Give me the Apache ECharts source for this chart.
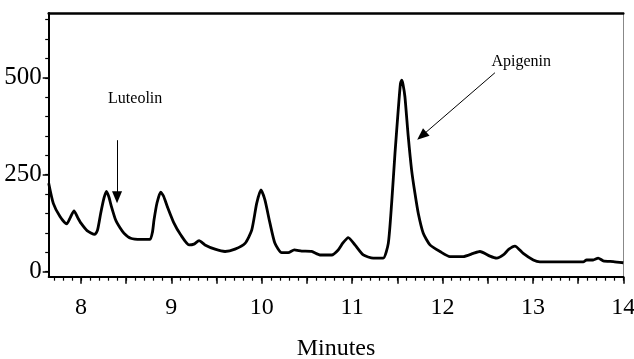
<!DOCTYPE html>
<html>
<head>
<meta charset="utf-8">
<script src="https://cdn.jsdelivr.net/npm/echarts@6/dist/echarts.min.js"></script>
<style>
html,body{margin:0;padding:0;background:#fff;}
#chart{width:634px;height:359px;}
</style>
</head>
<body>
<div id="chart"></div>
<script>
// Retention time (minutes)
var times = [7.643,7.694,7.768,7.842,7.879,7.923,7.967,8.000,8.067,8.152,8.183,8.218,8.255,8.282,8.310,8.332,8.384,8.432,8.476,8.550,8.661,8.764,8.791,8.808,8.841,8.882,8.913,8.955,9.029,9.103,9.195,9.250,9.306,9.372,9.483,9.594,9.704,9.815,9.889,9.944,9.991,10.035,10.091,10.146,10.220,10.293,10.360,10.442,10.552,10.644,10.774,10.846,10.898,10.957,11.031,11.123,11.234,11.344,11.400,11.437,11.474,11.510,11.534,11.548,11.562,11.584,11.621,11.658,11.695,11.732,11.787,11.861,11.972,12.082,12.229,12.340,12.414,12.525,12.599,12.672,12.735,12.801,12.893,13.004,13.078,13.557,13.594,13.666,13.722,13.778,13.889,14.000];
// Detector response
var signal = [228,176,142,123,138,157,138,125,106,96,107,150,190,207,192,172,133,113,99,86,83,83,102,133,177,205,195,168,125,95,69,71,80,69,58,52,58,73,107,176,211,185,125,73,49,49,56,53,52,43,43,56,74,88,69,43,35,35,73,176,305,417,484,494,484,451,348,262,202,150,99,69,52,39,39,47,52,40,35,43,58,66,47,30,25,25,30,30,35,28,26,23];

var xLabels = [8,9,10,11,12,13,14];
var xMajorTicks = [8,8.5,9,9.5,10,10.5,11,11.5,12,12.5,13,13.5,14];
var xMinorTicks = [7.7,7.8,7.9,8.0,8.1,8.2,8.3,8.4,8.5,8.6,8.7,8.8,8.9,9.0,9.1,9.2,9.3,9.4,9.5,9.6,9.7,9.8,9.9,10.0,10.1,10.2,10.3,10.4,10.5,10.6,10.7,10.8,10.9,11.0,11.1,11.2,11.3,11.4,11.5,11.6,11.7,11.8,11.9,12.0,12.1,12.2,12.3,12.4,12.5,12.6,12.7,12.8,12.9,13.0,13.1,13.2,13.3,13.4,13.5,13.6,13.7,13.8,13.9,14.0];
var yLabels = [0,250,500];
var yMinorTicks = [0,50,100,150,200,250,300,350,400,450,500,550,600,650];

var annotations = [
  {name:'Luteolin', text:[8.6,445], from:[8.399,339], to:[8.399,192]},
  {name:'Apigenin', text:[12.87,541], from:[12.58,513], to:[11.77,350]}
];

var FONT = "'Liberation Serif','Times New Roman',serif";
var X_MIN = 7.643, X_MAX = 14, Y_MIN = -13, Y_MAX = 667;
function makeGrid(){
  return {left:48.7, right:10.7, top:13, bottom:82.3, containLabel:false, outerBoundsMode:'none'};
}

var chart = echarts.init(document.getElementById('chart'));
var data = times.map(function(t,i){return [t, signal[i]];});

function ax(o){
  o.splitLine = {show:false};
  o.axisLine.onZero = false;
  return o;
}

var option = {
  backgroundColor:'#fff',
  animation:false,
  grid:[makeGrid(), makeGrid(), makeGrid()],
  xAxis:[
    ax({type:'value', gridIndex:0, position:'bottom', min:X_MIN, max:X_MAX,
     axisLine:{show:true, lineStyle:{color:'#000', width:2}},
     axisTick:{show:true, inside:false, length:7, customValues:xMajorTicks, lineStyle:{color:'#000', width:1.5}},
     axisLabel:{show:true, customValues:xLabels, margin:19, color:'#000', fontFamily:FONT, fontSize:24},
     name:'Minutes', nameLocation:'middle', nameGap:60,
     nameTextStyle:{color:'#000', fontFamily:FONT, fontSize:24}}),
    ax({type:'value', gridIndex:1, position:'bottom', min:X_MIN, max:X_MAX,
     axisLine:{show:false},
     axisTick:{show:true, length:4, customValues:xMinorTicks, lineStyle:{color:'#000', width:1.2}},
     axisLabel:{show:false}}),
    ax({type:'value', gridIndex:2, position:'top', min:X_MIN, max:X_MAX,
     axisLine:{show:true, lineStyle:{color:'#000', width:2.5}},
     axisTick:{show:false}, axisLabel:{show:false}})
  ],
  yAxis:[
    ax({type:'value', gridIndex:0, position:'left', min:Y_MIN, max:Y_MAX,
     axisLine:{show:true, lineStyle:{color:'#000', width:2}},
     axisTick:{show:true, length:6, customValues:yLabels, lineStyle:{color:'#000', width:1.5}},
     axisLabel:{show:true, customValues:yLabels, margin:7, color:'#000', fontFamily:FONT, fontSize:25}}),
    ax({type:'value', gridIndex:1, position:'left', min:Y_MIN, max:Y_MAX,
     axisLine:{show:false},
     axisTick:{show:true, length:3.5, customValues:yMinorTicks, lineStyle:{color:'#000', width:1.2}},
     axisLabel:{show:false}}),
    ax({type:'value', gridIndex:2, position:'right', min:Y_MIN, max:Y_MAX,
     axisLine:{show:true, lineStyle:{color:'#888', width:1}},
     axisTick:{show:false}, axisLabel:{show:false}})
  ],
  series:[
    {type:'line', xAxisIndex:0, yAxisIndex:0, data:data, showSymbol:false, smooth:0.2,
     lineStyle:{color:'#000', width:2.8}, z:3,
     markLine:{silent:true, symbol:['none','triangle'], symbolSize:[10,12],
       lineStyle:{color:'#000', width:1, type:'solid'}, label:{show:false},
       data: annotations.map(function(a){return [{coord:a.from},{coord:a.to}];})}
    }
  ]
};
chart.setOption(option);

var gfx = annotations.map(function(a){
  var p = chart.convertToPixel({xAxisIndex:0, yAxisIndex:0}, a.text);
  return {type:'text', x:p[0], y:p[1],
    style:{text:a.name, fill:'#000', font:'16px ' + FONT, align:'center', verticalAlign:'middle'}};
});
chart.setOption({graphic:gfx});
</script>
</body>
</html>
